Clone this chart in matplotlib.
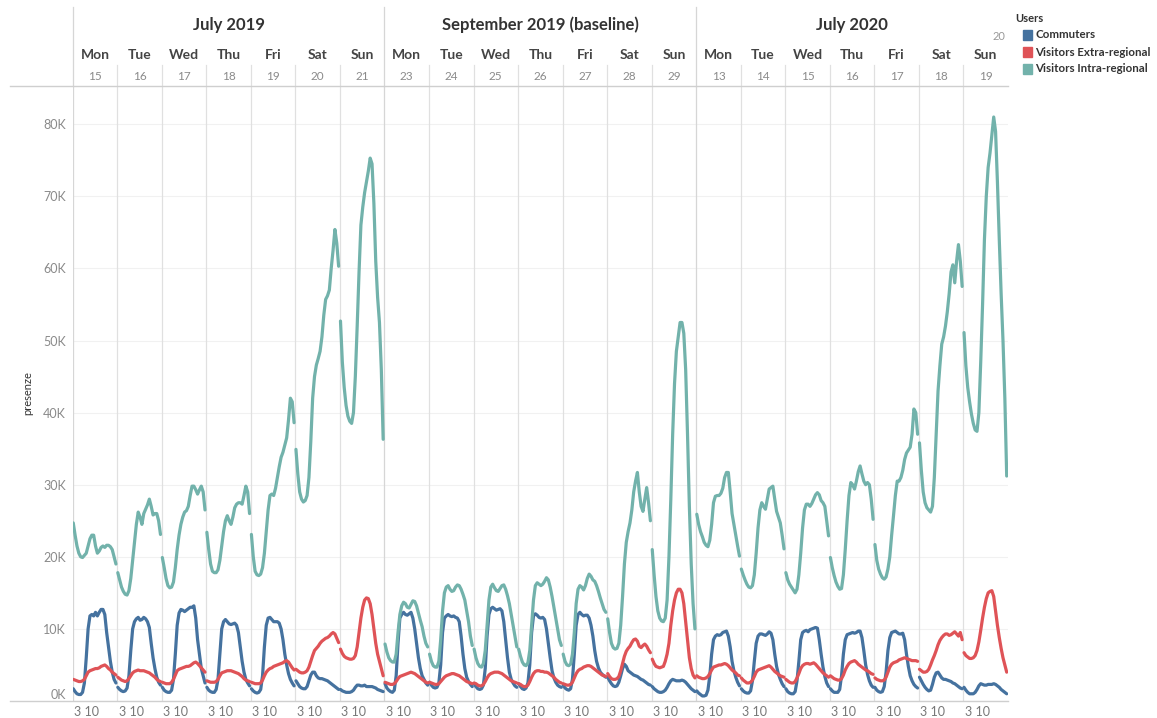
import matplotlib.pyplot as plt
from matplotlib.lines import Line2D

plt.rcParams['font.family'] = ['Lato', 'DejaVu Sans']

panel_titles = ['July 2019', 'September 2019 (baseline)', 'July 2020']
day_names = ['Mon', 'Tue', 'Wed', 'Thu', 'Fri', 'Sat', 'Sun']
day_numbers = [['15', '16', '17', '18', '19', '20', '21'],
               ['23', '24', '25', '26', '27', '28', '29'],
               ['13', '14', '15', '16', '17', '18', '19']]
series_names = ['Commuters', 'Visitors Extra-regional', 'Visitors Intra-regional']
colors = ['#45729f', '#df5357', '#72b2ab']
y_ticks = [0, 10, 20, 30, 40, 50, 60, 70, 80]
hour_label = '3 10'

# hourly presences in thousands (hour 0..23), one list per day Mon..Sun
commuters_jul19 = [
    [1.7, 1.3, 1.0, 0.9, 0.9, 1.2, 2.5, 6.0, 10.0, 11.8, 12.0, 11.8, 12.3, 11.8, 12.3, 12.7, 12.7, 12.0, 9.5, 7.5, 5.5, 4.0, 3.0, 2.5],
    [1.9, 1.6, 1.4, 1.3, 1.4, 1.8, 3.5, 7.0, 10.0, 11.0, 11.4, 11.6, 11.2, 11.3, 11.6, 11.4, 11.0, 10.2, 8.0, 6.0, 4.5, 3.3, 2.6, 2.2],
    [1.9, 1.5, 1.3, 1.2, 1.2, 1.5, 3.0, 6.5, 10.5, 12.2, 12.7, 12.6, 12.4, 12.6, 12.8, 13.0, 13.0, 13.2, 11.5, 8.5, 6.5, 4.5, 3.5, 2.5],
    [1.9, 1.5, 1.3, 1.2, 1.2, 1.6, 3.0, 6.5, 10.0, 11.0, 11.3, 11.0, 10.7, 10.6, 10.7, 10.8, 10.5, 9.5, 7.5, 5.5, 4.0, 3.0, 2.5, 2.1],
    [1.7, 1.4, 1.2, 1.1, 1.2, 1.6, 3.5, 7.5, 10.5, 11.5, 11.6, 11.3, 11.0, 11.0, 11.0, 10.8, 10.0, 8.5, 6.5, 5.0, 3.8, 3.0, 2.5, 2.1],
    [2.8, 2.4, 2.0, 1.8, 1.7, 1.7, 2.0, 2.8, 3.6, 4.0, 4.0, 3.5, 3.2, 3.1, 3.1, 3.0, 2.9, 2.8, 2.6, 2.4, 2.2, 2.0, 1.8, 1.6],
    [1.6, 1.4, 1.3, 1.2, 1.2, 1.2, 1.3, 1.5, 1.9, 2.2, 2.2, 2.1, 2.1, 2.2, 2.0, 2.0, 2.0, 2.0, 1.9, 1.8, 1.6, 1.5, 1.4, 1.3],
]
extra_jul19 = [
    [3.0, 2.9, 2.8, 2.7, 2.7, 2.8, 3.0, 3.5, 4.0, 4.2, 4.3, 4.4, 4.5, 4.5, 4.6, 4.8, 4.9, 5.0, 4.8, 4.5, 4.3, 4.0, 3.8, 3.6],
    [3.3, 3.1, 2.9, 2.8, 2.7, 2.8, 3.1, 3.5, 3.9, 4.1, 4.2, 4.3, 4.2, 4.2, 4.2, 4.1, 4.0, 3.9, 3.7, 3.5, 3.3, 3.0, 2.8, 2.7],
    [2.6, 2.5, 2.4, 2.4, 2.4, 2.6, 3.0, 3.6, 4.2, 4.4, 4.5, 4.6, 4.7, 4.8, 4.8, 4.9, 5.1, 5.3, 5.4, 5.2, 4.9, 4.6, 4.3, 4.0],
    [2.8, 2.7, 2.6, 2.6, 2.6, 2.7, 3.0, 3.5, 3.9, 4.0, 4.1, 4.2, 4.2, 4.2, 4.1, 4.0, 3.9, 3.8, 3.6, 3.4, 3.1, 2.9, 2.8, 2.7],
    [2.6, 2.5, 2.4, 2.4, 2.4, 2.5, 2.9, 3.5, 4.0, 4.3, 4.5, 4.6, 4.8, 4.9, 5.0, 5.1, 5.2, 5.3, 5.5, 5.6, 5.4, 5.0, 4.6, 4.3],
    [4.4, 4.2, 4.0, 3.9, 3.9, 4.0, 4.2, 4.7, 5.5, 6.3, 7.0, 7.3, 7.6, 8.0, 8.3, 8.5, 8.7, 8.8, 9.0, 9.3, 9.5, 9.3, 8.7, 8.1],
    [7.2, 6.6, 6.2, 6.0, 5.9, 5.8, 5.8, 5.9, 6.3, 7.5, 9.5, 11.5, 13.0, 14.0, 14.3, 14.2, 13.5, 12.0, 10.0, 8.0, 6.5, 5.5, 4.5, 3.5],
]
intra_jul19 = [
    [24.7, 23.0, 21.5, 20.5, 20.0, 19.9, 20.2, 20.5, 21.5, 22.5, 23.0, 23.0, 21.5, 20.5, 20.8, 21.3, 21.5, 21.3, 21.6, 21.6, 21.4, 21.0, 20.0, 19.0],
    [17.8, 16.8, 15.8, 15.2, 14.8, 14.7, 15.3, 17.0, 19.5, 22.0, 24.5, 26.2, 25.5, 24.5, 26.0, 26.6, 27.2, 28.0, 27.0, 25.8, 26.0, 26.0, 25.0, 23.1],
    [19.9, 18.5, 17.0, 16.0, 15.7, 15.8, 16.5, 18.5, 21.0, 23.0, 24.5, 25.5, 26.2, 26.4, 27.0, 28.5, 29.8, 29.8, 29.3, 28.7, 29.3, 29.8, 29.0, 26.5],
    [23.4, 21.0, 19.0, 18.0, 17.8, 17.8, 18.2, 19.5, 21.5, 23.5, 25.0, 25.7, 25.0, 24.5, 25.5, 26.8, 27.3, 27.5, 27.5, 27.3, 28.5, 29.8, 29.0, 26.0],
    [23.1, 20.0, 18.0, 17.5, 17.4, 17.6, 18.5, 20.5, 23.5, 26.5, 28.5, 28.7, 28.5, 29.5, 31.0, 32.5, 33.8, 34.5, 35.5, 36.5, 39.0, 42.0, 41.5, 38.6],
    [34.9, 31.5, 29.0, 28.0, 27.6, 27.8, 28.5, 31.0, 36.0, 42.0, 45.0, 46.6, 47.5, 48.5, 50.5, 53.5, 55.7, 56.2, 57.0, 60.0, 62.5, 65.4, 63.5, 60.3],
    [52.7, 47.0, 43.5, 41.0, 39.5, 38.8, 38.5, 40.0, 45.0, 52.0, 59.5, 66.0, 68.5, 70.5, 72.0, 73.5, 75.3, 74.5, 69.0, 61.0, 56.0, 52.5, 46.0, 36.3],
]

commuters_sep19 = [
    [2.4, 1.8, 1.5, 1.3, 1.2, 1.5, 3.5, 8.0, 11.5, 12.0, 12.3, 12.0, 11.9, 12.1, 12.3, 11.5, 10.0, 8.0, 6.0, 4.5, 3.5, 3.0, 2.5, 2.2],
    [2.6, 2.2, 1.9, 1.8, 1.9, 2.5, 5.0, 9.5, 11.5, 11.8, 12.0, 11.8, 11.7, 11.8, 11.6, 11.5, 11.0, 9.0, 6.5, 4.5, 3.3, 2.7, 2.3, 2.0],
    [2.4, 2.0, 1.7, 1.6, 1.7, 2.2, 4.5, 9.0, 12.0, 12.8, 13.0, 12.8, 12.6, 12.7, 12.8, 12.5, 11.0, 8.5, 6.0, 4.0, 3.0, 2.5, 2.1, 1.9],
    [2.4, 2.0, 1.7, 1.6, 1.8, 2.5, 5.0, 9.5, 11.8, 12.1, 11.9, 11.6, 11.5, 11.6, 11.3, 10.0, 8.0, 6.0, 4.2, 3.2, 2.6, 2.2, 2.0, 1.9],
    [2.2, 1.8, 1.6, 1.5, 1.7, 3.0, 6.5, 10.5, 12.0, 12.3, 12.0, 11.8, 11.9, 11.9, 11.5, 10.5, 9.0, 7.0, 5.5, 4.6, 4.0, 3.7, 3.5, 3.3],
    [3.3, 2.8, 2.4, 2.1, 2.0, 2.1, 2.6, 3.5, 4.5, 5.1, 4.8, 4.2, 4.0, 3.8, 3.6, 3.5, 3.4, 3.2, 3.0, 2.9, 2.7, 2.5, 2.3, 2.2],
    [2.0, 1.7, 1.5, 1.3, 1.2, 1.2, 1.3, 1.5, 1.9, 2.4, 2.8, 3.0, 2.9, 2.8, 2.8, 2.8, 2.9, 2.8, 2.6, 2.3, 2.0, 1.7, 1.5, 1.3],
]
extra_sep19 = [
    [2.6, 2.5, 2.4, 2.3, 2.3, 2.4, 2.7, 3.1, 3.4, 3.5, 3.6, 3.7, 3.8, 3.9, 4.0, 3.9, 3.8, 3.6, 3.4, 3.2, 3.0, 2.8, 2.6, 2.5],
    [2.6, 2.5, 2.4, 2.3, 2.3, 2.4, 2.7, 3.0, 3.3, 3.5, 3.6, 3.7, 3.8, 3.8, 3.7, 3.6, 3.5, 3.3, 3.1, 2.9, 2.7, 2.6, 2.5, 2.4],
    [2.5, 2.4, 2.2, 2.1, 2.1, 2.3, 2.7, 3.2, 3.6, 3.8, 3.9, 4.0, 4.0, 4.0, 3.9, 3.8, 3.6, 3.4, 3.2, 3.0, 2.8, 2.7, 2.6, 2.5],
    [2.4, 2.3, 2.1, 2.0, 2.0, 2.2, 2.7, 3.3, 3.8, 4.1, 4.2, 4.2, 4.1, 4.1, 4.0, 4.0, 3.9, 3.7, 3.5, 3.3, 3.0, 2.8, 2.6, 2.5],
    [2.4, 2.3, 2.2, 2.2, 2.3, 2.6, 3.2, 3.8, 4.2, 4.4, 4.5, 4.7, 4.8, 4.9, 4.9, 4.8, 4.6, 4.4, 4.2, 4.0, 3.8, 3.6, 3.5, 3.4],
    [3.8, 3.4, 3.1, 3.0, 3.0, 3.1, 3.4, 4.2, 5.2, 6.2, 6.9, 7.3, 7.6, 8.1, 8.5, 8.6, 8.3, 7.6, 7.4, 7.7, 7.9, 7.6, 7.1, 6.7],
    [5.8, 5.2, 4.8, 4.7, 4.6, 4.7, 4.8, 5.5, 6.5, 8.0, 10.5, 12.5, 14.0, 15.0, 15.5, 15.5, 15.0, 13.5, 11.0, 8.5, 6.0, 4.5, 3.6, 3.2],
]
intra_sep19 = [
    [7.9, 6.8, 6.0, 5.6, 5.4, 5.4, 6.5, 9.5, 12.0, 13.2, 13.7, 13.5, 13.0, 12.9, 13.4, 13.9, 13.8, 13.2, 12.2, 11.2, 10.3, 9.0, 8.0, 7.5],
    [6.5, 5.5, 4.9, 4.7, 4.7, 5.5, 8.5, 12.5, 15.0, 15.8, 16.0, 15.5, 15.2, 15.3, 15.8, 16.1, 16.0, 15.5, 14.8, 14.0, 12.5, 11.0, 9.0, 7.7],
    [7.2, 6.0, 5.2, 4.8, 4.7, 5.2, 7.0, 10.5, 14.0, 15.8, 16.2, 15.7, 15.3, 15.2, 15.6, 16.0, 16.1, 15.5, 14.6, 13.5, 12.0, 10.5, 9.0, 7.5],
    [7.2, 6.2, 5.4, 5.0, 4.9, 5.3, 7.0, 10.5, 14.0, 16.0, 16.4, 16.2, 16.0, 16.2, 16.6, 17.1, 16.8, 15.8, 14.5, 13.0, 11.5, 10.0, 8.5, 7.7],
    [6.5, 5.5, 5.0, 4.9, 5.1, 6.5, 9.5, 13.5, 15.5, 16.0, 15.8, 15.4, 16.0, 17.0, 17.6, 17.3, 16.8, 16.6, 16.0, 15.2, 14.3, 13.5, 12.7, 12.3],
    [11.4, 9.5, 8.0, 7.4, 7.2, 7.3, 8.0, 10.5, 14.5, 19.0, 22.0, 23.5, 24.7, 26.5, 29.0, 30.5, 31.7, 29.0, 27.0, 26.3, 28.0, 29.6, 27.5, 25.0],
    [21.0, 17.5, 14.5, 12.5, 11.5, 11.1, 11.0, 11.5, 14.0, 20.0, 28.0, 37.0, 44.0, 48.5, 50.5, 52.5, 52.5, 51.0, 46.0, 37.0, 27.0, 19.0, 13.5, 10.0],
]

commuters_jul20 = [
    [1.4, 1.1, 0.9, 0.7, 0.7, 0.8, 1.5, 3.5, 6.5, 8.5, 9.0, 9.2, 9.1, 9.2, 9.5, 9.6, 9.7, 9.0, 7.5, 5.5, 4.2, 3.3, 2.6, 2.1],
    [1.7, 1.4, 1.2, 1.1, 1.1, 1.4, 2.8, 5.5, 8.0, 9.0, 9.3, 9.3, 9.2, 9.1, 9.3, 9.6, 9.4, 8.5, 6.5, 4.8, 3.7, 3.0, 2.4, 2.0],
    [1.7, 1.3, 1.1, 1.0, 1.0, 1.3, 2.8, 5.5, 8.5, 9.5, 9.7, 9.8, 9.6, 9.9, 10.0, 10.1, 10.2, 10.1, 8.5, 6.5, 4.7, 3.4, 2.5, 2.0],
    [1.7, 1.4, 1.2, 1.2, 1.2, 1.6, 3.5, 6.5, 8.5, 9.2, 9.3, 9.4, 9.5, 9.4, 9.5, 9.7, 9.7, 8.8, 7.0, 5.0, 3.7, 2.8, 2.2, 1.9],
    [1.9, 1.5, 1.3, 1.2, 1.3, 2.0, 4.0, 7.0, 8.8, 9.5, 9.6, 9.7, 9.5, 9.3, 9.3, 9.4, 8.5, 6.5, 4.8, 3.5, 2.8, 2.3, 2.0, 1.8],
    [3.3, 2.8, 2.3, 1.9, 1.6, 1.4, 1.5, 2.3, 3.3, 3.9, 4.0, 3.6, 3.2, 3.0, 3.0, 2.9, 2.8, 2.7, 2.5, 2.4, 2.2, 2.0, 1.8, 1.7],
    [1.9, 1.5, 1.2, 1.0, 1.0, 1.0, 1.2, 1.6, 2.1, 2.4, 2.3, 2.2, 2.2, 2.3, 2.3, 2.3, 2.4, 2.3, 2.1, 1.9, 1.6, 1.4, 1.2, 1.0],
]
extra_jul20 = [
    [3.5, 3.3, 3.2, 3.1, 3.1, 3.2, 3.4, 3.8, 4.3, 4.7, 4.8, 4.9, 5.0, 5.0, 5.1, 5.2, 5.1, 4.9, 4.6, 4.3, 4.1, 3.9, 3.6, 3.5],
    [3.2, 2.9, 2.7, 2.5, 2.5, 2.6, 2.9, 3.4, 4.0, 4.3, 4.4, 4.5, 4.6, 4.7, 4.8, 4.9, 4.7, 4.4, 4.1, 3.9, 3.7, 3.5, 3.4, 3.3],
    [3.0, 2.8, 2.6, 2.5, 2.5, 2.7, 3.2, 3.8, 4.5, 4.9, 5.1, 5.2, 5.2, 5.1, 5.2, 5.3, 5.1, 4.8, 4.5, 4.2, 3.9, 3.7, 3.5, 3.3],
    [3.5, 3.3, 3.1, 3.0, 2.9, 2.9, 3.1, 3.6, 4.3, 4.8, 5.2, 5.4, 5.5, 5.6, 5.4, 5.1, 4.9, 4.7, 4.5, 4.3, 4.2, 4.0, 3.8, 3.7],
    [3.2, 3.0, 2.9, 2.8, 2.8, 2.9, 3.3, 4.0, 4.7, 5.1, 5.3, 5.4, 5.5, 5.7, 5.8, 5.9, 6.0, 5.9, 5.8, 5.7, 5.6, 5.6, 5.6, 5.5],
    [4.4, 4.2, 4.0, 4.0, 4.1, 4.4, 5.0, 5.7, 6.3, 7.0, 7.8, 8.4, 8.8, 9.1, 9.3, 9.3, 9.1, 9.2, 9.4, 9.6, 9.3, 9.0, 9.5, 8.5],
    [6.7, 6.3, 6.1, 5.9, 5.9, 6.0, 6.3, 7.0, 8.2, 9.8, 11.5, 13.0, 14.2, 15.0, 15.2, 15.3, 14.5, 12.5, 10.5, 8.8, 7.3, 6.0, 5.0, 4.0],
]
intra_jul20 = [
    [25.9, 24.5, 23.5, 22.8, 22.0, 21.6, 21.4, 22.3, 24.5, 27.5, 28.4, 28.5, 28.5, 28.8, 29.5, 31.0, 31.7, 31.7, 29.0, 26.0, 24.5, 23.0, 21.5, 20.1],
    [18.3, 17.5, 16.8, 16.2, 15.8, 15.7, 16.0, 17.5, 20.5, 24.0, 26.5, 27.5, 27.0, 26.6, 28.0, 29.4, 29.6, 29.8, 28.0, 26.3, 25.5, 24.7, 23.0, 21.1],
    [17.8, 16.8, 16.2, 15.8, 15.4, 15.0, 15.5, 17.5, 20.5, 24.0, 26.5, 27.3, 27.3, 27.0, 27.4, 28.0, 28.6, 28.9, 28.6, 27.8, 27.5, 27.0, 25.0, 22.9],
    [19.9, 18.5, 17.4, 16.5, 15.9, 15.5, 15.6, 17.5, 21.0, 25.0, 28.5, 30.3, 30.0, 29.4, 30.5, 31.8, 32.6, 31.5, 30.5, 30.0, 30.3, 30.0, 28.0, 25.2],
    [21.7, 19.5, 18.3, 17.6, 17.1, 16.9, 17.2, 18.3, 20.0, 23.0, 25.7, 28.5, 30.5, 30.5, 31.0, 32.0, 33.5, 34.4, 34.8, 35.2, 37.0, 40.5, 40.0, 37.0],
    [35.8, 32.0, 29.0, 27.5, 26.8, 26.5, 26.2, 27.0, 31.0, 37.0, 43.0, 46.5, 49.5, 50.5, 52.0, 54.0, 56.5, 59.5, 60.5, 58.0, 61.0, 63.3, 61.0, 57.5],
    [51.1, 46.5, 43.5, 41.5, 39.8, 38.5, 37.6, 37.4, 40.0, 47.0, 55.0, 64.0, 70.0, 74.0, 76.0, 78.5, 81.0, 79.0, 72.0, 64.0, 56.5, 50.0, 42.0, 31.2],
]

panels = [
    [commuters_jul19, extra_jul19, intra_jul19],
    [commuters_sep19, extra_sep19, intra_sep19],
    [commuters_jul20, extra_jul20, intra_jul20],
]

W, H = 1157, 718
left, right, top, bottom = 72.7, 1008, 86, 701
grid_col = '#d6d6d6'

fig = plt.figure(figsize=(W / 100, H / 100), dpi=100)
ax = fig.add_axes([left / W, 1 - bottom / H, (right - left) / W, (bottom - top) / H])

# one line per day, like the Tableau panes
for p, series in enumerate(panels):
    for s, days in enumerate(series):
        for d, vals in enumerate(days):
            start = (p * 7 + d) * 24
            xs = [start + h + 0.3 for h in range(len(vals))]
            ax.plot(xs, vals, color=colors[s], lw=2.3, solid_capstyle='round', zorder=3)

ax.set_xlim(0, 21 * 24)
ax.set_ylim(0, 85.3)
ax.set_yticks(y_ticks)
ax.set_yticklabels([f'{v}K' for v in y_ticks], color='#8a8a8a', fontsize=9)
ax.get_yticklabels()[0].set_va('bottom')
ax.set_xticks([d * 24 + 0.8 for d in range(21)])
ax.set_xticklabels([hour_label] * 21, color='#777777', fontsize=9, ha='left')
ax.tick_params(length=0)
ax.tick_params(axis='y', pad=5)
ax.tick_params(axis='x', pad=3.5)
ax.grid(axis='y', color='#f1f1f1', lw=0.8)
ax.set_axisbelow(True)
for sp in ax.spines.values():
    sp.set_visible(False)
for d in range(21):
    ax.axvline(d * 24, color=grid_col if d % 7 == 0 else '#e0e0e0', lw=0.9, zorder=1)
ax.set_ylabel('presenze', fontsize=8, color='#333333', labelpad=7)

# header with months, weekdays and dates
hx = fig.add_axes([left / W, 1 - top / H, (right - left) / W, top / H])
hx.set_xlim(0, 21 * 24)
hx.set_ylim(top, 0)
hx.axis('off')
for p, title in enumerate(panel_titles):
    hx.text(p * 168 + 84, 25, title, ha='center', va='center', fontsize=12,
            fontweight='bold', color='#333333')
    hx.plot([p * 168, p * 168], [7, top], color=grid_col, lw=0.9, clip_on=False)
    for d in range(7):
        xc = p * 168 + d * 24 + 12
        hx.text(xc, 55, day_names[d], ha='center', va='center', fontsize=10,
                fontweight='bold', color='#444444')
        hx.text(xc, 76, day_numbers[p][d], ha='center', va='center', fontsize=8.5,
                color='#8a8a8a')
        if d > 0:
            hx.plot([p * 168 + d * 24] * 2, [65, top], color='#e0e0e0', lw=0.9)

# header rule and bottom axis rule
for yy in (top, bottom):
    fig.add_artist(Line2D([10 / W, right / W], [1 - yy / H] * 2, color='#cfcfcf', lw=1))

# legend
fig.text(1015 / W, 1 - 18 / H, 'Users', fontsize=8, fontweight='bold',
         color='#333333', va='center')
fig.text(1005 / W, 1 - 36 / H, '20', fontsize=8, color='#999999', va='center', ha='right')
for i, name in enumerate(series_names):
    yc = 35 + i * 17
    fig.add_artist(plt.Rectangle((1023 / W, 1 - (yc + 4.5) / H), 9 / W, 9 / H,
                                 color=colors[i], transform=fig.transFigure))
    fig.text(1035 / W, 1 - yc / H, name, fontsize=8.3, fontweight='bold',
             color='#333333', va='center')

fig.savefig('out.png', dpi=100)
